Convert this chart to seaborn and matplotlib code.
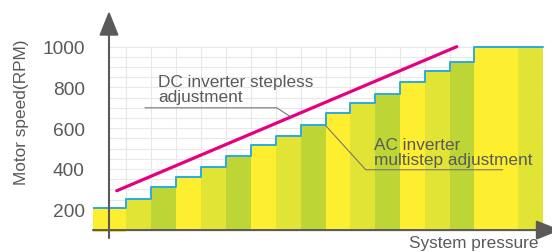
import numpy as np
import pandas as pd
import seaborn as sns
import matplotlib.pyplot as plt

# %% data
# pressure steps (bar edges, arbitrary pressure units)
edges = [0, 1.31, 2.31, 3.31, 4.31, 5.31, 6.31, 7.31, 8.31, 9.31,
         10.28, 11.28, 12.28, 13.28, 14.28, 15.24, 17.0, 18.0]
# AC inverter multistep speed (RPM)
ac_speed = [208, 252, 310, 362, 411, 462, 518, 563, 616, 673,
            724, 766, 825, 879, 926, 1000, 1000]
# DC inverter stepless line (start / end)
dc_pressure = [0.95, 14.55]
dc_speed = [293, 1000]
yticks = [200, 400, 600, 800, 1000]
base_speed = 100

bar_cols = ['#fdef30', '#e1e335', '#bdd636']
grey = '#5a5a5a'

sns.set_style('white')
plt.rcParams['font.family'] = ['Liberation Sans', 'DejaVu Sans']

fig = plt.figure(figsize=(5.52, 2.53), dpi=100)
ax = fig.add_axes([93 / 552, 0, 459 / 552, 1])
ax.set_xlim(0, 18.36)
ax.set_ylim(-7.6, 1234)

y_axis_x = 0.64

# grid (bounded, behind bars)
ax.hlines(np.arange(150, 1001, 50), y_axis_x, edges[-1], color='#e8e8e8', lw=0.8, zorder=0)
ax.vlines(edges[1:-1], base_speed, 1000, color='#e8e8e8', lw=0.8, zorder=0)

# bars (first one pokes a little under the axis, like the original)
lefts = np.array(edges[:-1])
widths = np.diff(edges)
colors = [bar_cols[i % 3] for i in range(len(ac_speed))]
bottoms = np.full(len(ac_speed), base_speed, dtype=float)
bottoms[0] = base_speed - 10
ax.bar(lefts, np.array(ac_speed) - bottoms, width=widths, bottom=bottoms,
       align='edge', color=colors, linewidth=0, zorder=1)

# blue step outline
steps = pd.DataFrame({'p': edges, 'rpm': ac_speed + [ac_speed[-1]]})
sns.lineplot(data=steps, x='p', y='rpm', drawstyle='steps-post', estimator=None,
             sort=False, color='#29abe2', lw=1.4, ax=ax, zorder=2)

# magenta DC line
dc = pd.DataFrame({'p': dc_pressure, 'rpm': dc_speed})
sns.lineplot(data=dc, x='p', y='rpm', color='#e5007f', lw=2.3, ax=ax, zorder=3)

# axes arrows
arrow = dict(arrowstyle='-|>,head_length=1.5,head_width=0.6', mutation_scale=10,
             color=grey, lw=1.5, shrinkA=0, shrinkB=0)
ax.annotate('', xy=(y_axis_x, 1175), xytext=(y_axis_x, 61), arrowprops=arrow,
            annotation_clip=False, zorder=4)
ax.annotate('', xy=(18.7, base_speed), xytext=(0, base_speed), arrowprops=arrow,
            annotation_clip=False, zorder=4)

# leader lines
ax.plot([2.08, 7.35, 7.88], [700, 700, 658], color='#777777', lw=0.8, zorder=4)
ax.plot([9.31, 10.91, 16.39], [612, 396, 396], color='#777777', lw=0.8, zorder=4)

ax.text(2.6, 733, 'DC inverter stepless\nadjustment', fontsize=12.4, color=grey,
        ha='left', va='baseline', linespacing=1.0, zorder=5)
ax.text(11.25, 424, 'AC inverter\nmultistep adjustment', fontsize=12.4, color=grey,
        ha='left', va='baseline', linespacing=1.0, zorder=5)
ax.text(12.64, 17, 'System pressure', fontsize=12.4, color=grey,
        ha='left', va='baseline', zorder=5)

for s in ax.spines.values():
    s.set_visible(False)
ax.set_xticks([])
ax.set_yticks(yticks)
ax.set_yticklabels([str(v) for v in yticks])
ax.tick_params(axis='y', length=0, pad=6, labelsize=13.8, labelcolor=grey)
ax.set_xlabel('')
ax.set_ylabel('Motor speed(RPM)', fontsize=12.4, color=grey)
ax.yaxis.set_label_coords(-0.1405, 0.557)

fig.savefig('out.png', dpi=100)
